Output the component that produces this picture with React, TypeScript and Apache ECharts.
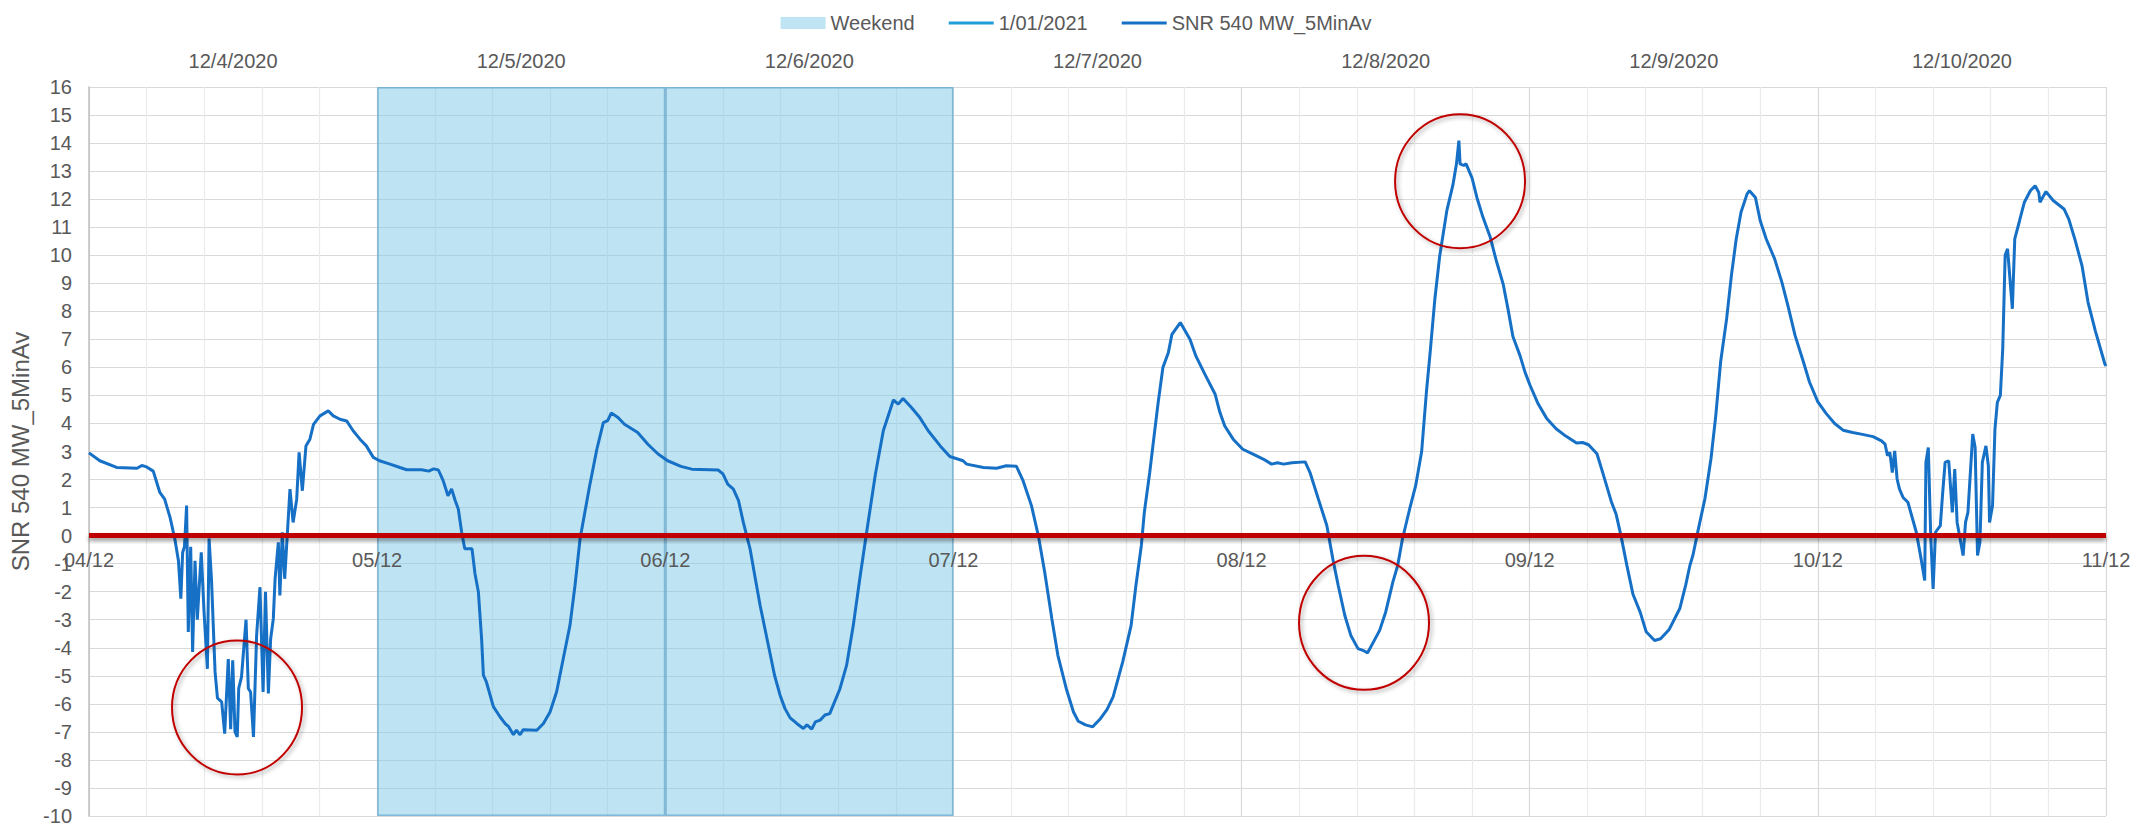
import React, { useEffect, useRef } from "react";
import * as echarts from "echarts";

// Bottom (time) axis: hours since 04/12 00:00, one label per day
const dayLabels = ["04/12", "05/12", "06/12", "07/12", "08/12", "09/12", "10/12", "11/12"];
// Top category axis (weekend shading)
const dayCategories = ["12/4/2020", "12/5/2020", "12/6/2020", "12/7/2020", "12/8/2020", "12/9/2020", "12/10/2020"];
const weekendFlags = [0, 1, 1, 0, 0, 0, 0];

// SNR 540 MW_5MinAv: time (hours since 04/12 00:00) and value
const hours = [
  0, 0.9, 2.3, 4.0, 4.4, 4.8, 5.35, 5.9, 6.3, 6.75, 7.15, 7.45, 7.65, 7.8, 7.95, 8.13, 8.27, 8.47, 8.63, 8.83,
  9.02, 9.35, 9.58, 9.86, 10.0, 10.2, 10.5, 10.7, 11.05, 11.3, 11.6, 11.8, 11.97, 12.16, 12.35, 12.47, 12.7, 13.08, 13.27, 13.46,
  13.7, 13.96, 14.24, 14.5, 14.7, 14.94, 15.13, 15.35, 15.5, 15.77, 15.9, 16.1, 16.3, 16.74, 17.0, 17.3, 17.5, 17.77, 18.07, 18.4,
  18.7, 19.24, 19.93, 20.35, 20.9, 21.46, 22.0, 22.57, 23.1, 23.68, 24.2, 25.07, 25.9, 26.46, 27.7, 28.3, 28.7, 29.1, 29.5, 29.9,
  30.2, 30.5, 30.76, 31.04, 31.3, 31.9, 32.15, 32.43, 32.7, 32.85, 33.1, 33.68, 34.23, 34.65, 34.93, 35.35, 35.6, 35.9, 36.17, 37.3,
  37.85, 38.4, 38.95, 39.5, 40.06, 40.48, 40.9, 41.3, 41.7, 42.3, 42.84, 43.2, 43.5, 44.06, 44.6, 45.7, 46.55, 47.4, 48.2, 49.3,
  50.2, 52.4, 52.8, 53.2, 53.67, 54.1, 54.5, 55.06, 55.5, 55.9, 56.3, 56.7, 57.1, 57.56, 57.97, 58.4, 58.95, 59.5, 59.8, 60.2,
  60.5, 60.9, 61.3, 61.7, 62.1, 62.55, 63.1, 63.66, 64.2, 64.77, 65.5, 66.16, 67.0, 67.4, 67.8, 68.5, 69.2, 69.9, 70.9, 71.7,
  72.8, 73.1, 74.5, 75.6, 76.4, 77.25, 77.8, 78.5, 79.07, 79.6, 80.2, 80.7, 81.4, 82.0, 82.4, 83.0, 83.6, 84.2, 84.8, 85.3,
  86.1, 86.8, 87.2, 87.65, 87.9, 88.35, 88.75, 89.05, 89.45, 89.9, 90.2, 90.9, 91.7, 92.2, 92.95, 93.8, 94.2, 94.6, 95.3, 96.1,
  97.0, 97.8, 98.5, 99.0, 99.5, 100.2, 101.3, 101.7, 102.4, 103.1, 103.6, 104.05, 104.6, 105.1, 105.7, 106.1, 106.5, 106.9, 107.5, 108.0,
  108.6, 109.0, 109.4, 110.0, 110.5, 111.0, 111.4, 111.7, 112.1, 112.5, 113.1, 113.6, 113.9, 114.1, 114.2, 114.5, 114.7, 115.2, 115.6, 116.1,
  116.7, 117.2, 117.8, 118.2, 118.6, 119.2, 119.6, 120.0, 120.7, 121.4, 122.2, 123.0, 123.9, 124.4, 124.9, 125.6, 126.1, 126.8, 127.2, 127.6,
  128.1, 128.6, 129.2, 129.7, 130.4, 130.9, 131.6, 132.5, 133.0, 133.35, 133.6, 134.0, 134.6, 135.1, 135.5, 135.9, 136.4, 136.8, 137.2, 137.6,
  138.1, 138.3, 138.8, 139.2, 139.7, 140.4, 141.0, 141.5, 142.1, 142.8, 143.3, 144.0, 144.7, 145.4, 146.1, 146.9, 147.6, 148.6, 149.3, 149.6,
  149.8, 150.0, 150.2, 150.4, 150.6, 150.8, 151.1, 151.5, 152.2, 152.6, 152.9, 153.0, 153.2, 153.4, 153.6, 153.8, 154.2, 154.4, 154.6, 154.9,
  155.2, 155.4, 155.6, 156.1, 156.3, 156.5, 156.9, 157.1, 157.3, 157.5, 157.7, 158.0, 158.2, 158.3, 158.55, 158.75, 158.95, 159.2, 159.4, 159.6,
  159.8, 160.2, 160.4, 160.8, 161.2, 161.7, 162.1, 162.4, 162.5, 163.0, 163.6, 164.5, 164.9, 165.4, 166.0, 166.5, 167.1, 167.9, 168.0,
];
const snr = [
  2.95, 2.67, 2.43, 2.4, 2.5, 2.45, 2.3, 1.54, 1.3, 0.65, -0.12, -0.9, -2.25, -0.6, -0.4, 1.07, -3.44, -0.4, -4.15, -0.9,
  -3.0, -0.6, -2.7, -4.75, -0.1, -1.54, -4.86, -5.8, -5.93, -7.06, -4.4, -6.9, -4.45, -7.0, -7.18, -5.45, -5.05, -3.0, -5.45, -5.58,
  -7.18, -3.56, -1.84, -5.58, -2.0, -5.63, -3.68, -2.97, -1.54, -0.24, -2.13, 0.12, -1.54, 1.66, 0.47, 1.3, 2.97, 1.6, 3.2, 3.44,
  3.97, 4.27, 4.45, 4.27, 4.15, 4.09, 3.74, 3.44, 3.2, 2.79, 2.67, 2.55, 2.43, 2.35, 2.35, 2.3, 2.38, 2.34, 1.96, 1.42,
  1.66, 1.25, 0.95, 0.12, -0.47, -0.47, -1.36, -2.0, -3.68, -4.98, -5.22, -6.1, -6.46, -6.7, -6.8, -7.1, -6.94, -7.1, -6.92, -6.94,
  -6.7, -6.29, -5.57, -4.39, -3.2, -1.78, -0.12, 0.83, 1.78, 3.08, 4.03, 4.1, 4.37, 4.21, 3.97, 3.68, 3.26, 2.91, 2.67, 2.47,
  2.37, 2.34, 2.2, 1.84, 1.66, 1.25, 0.47, -0.47, -1.54, -2.49, -3.32, -4.15, -4.98, -5.69, -6.17, -6.5, -6.7, -6.88, -6.75, -6.9,
  -6.64, -6.58, -6.4, -6.35, -5.93, -5.46, -4.63, -3.2, -1.54, 0.12, 2.19, 3.74, 4.84, 4.69, 4.89, 4.57, 4.21, 3.74, 3.2, 2.82,
  2.67, 2.55, 2.43, 2.4, 2.49, 2.47, 1.96, 1.07, 0, -1.3, -2.97, -4.27, -5.46, -6.29, -6.62, -6.75, -6.82, -6.55, -6.2, -5.75,
  -4.5, -3.2, -1.78, -0.36, 0.83, 2.25, 3.68, 4.74, 6.0, 6.52, 7.18, 7.6, 7.0, 6.4, 5.75, 5.04, 4.39, 3.91, 3.44, 3.08,
  2.9, 2.73, 2.55, 2.6, 2.55, 2.6, 2.63, 2.25, 1.3, 0.36, -0.83, -1.78, -2.85, -3.56, -4.03, -4.09, -4.18, -3.86, -3.38, -2.73,
  -1.66, -1.07, -0.12, 0.95, 1.78, 3.0, 5.14, 6.5, 8.44, 9.96, 11.6, 12.5, 13.26, 14.09, 13.26, 13.2, 13.26, 12.75, 12.06, 11.36,
  10.66, 9.83, 8.95, 8.06, 7.1, 6.41, 5.84, 5.39, 4.7, 4.19, 3.81, 3.55, 3.3, 3.32, 3.24, 2.92, 2.22, 1.21, 0.76, 0,
  -1.08, -2.09, -2.73, -3.43, -3.74, -3.68, -3.36, -2.6, -1.75, -1.05, -0.69, 0.14, 1.33, 2.75, 4.29, 6.19, 7.73, 9.28, 10.58, 11.53,
  12.18, 12.3, 12.06, 11.23, 10.58, 9.87, 9.04, 8.21, 7.14, 6.19, 5.48, 4.77, 4.35, 4.0, 3.76, 3.68, 3.62, 3.53, 3.38, 3.26,
  2.85, 2.97, 2.25, 3.02, 2.02, 1.66, 1.36, 1.19, 0.12, -0.83, -1.6, 2.61, 3.14, 0, -1.9, 0.12, 0.36, 1.54, 2.61, 2.67,
  0.83, 2.37, 0.47, -0.71, 0.47, 0.83, 3.62, 3.14, -0.71, -0.24, 2.61, 3.2, 2.49, 0.47, 1.07, 3.8, 4.75, 5.0, 6.67, 10.0,
  10.23, 8.09, 10.58, 11.23, 11.89, 12.3, 12.48, 12.24, 11.89, 12.27, 11.95, 11.65, 11.29, 10.58, 9.63, 8.33, 7.32, 6.13, 6.05,
];

// Reference (threshold) line value
const thresholdValues = [0];

// Annotation circle centres: [hours, SNR]
const circleHours = [12.33, 114.2, 106.2];
const circleValues = [-6.13, 12.64, -3.11];

const TEXT = "#595959";
const FONT = "'Liberation Sans', Arial, sans-serif";
const LEGEND_LINE = "path://M0,0 L45,0 L45,3 L0,3 Z";

export default function App() {
  const ref = useRef<HTMLDivElement>(null);

  useEffect(() => {
    if (!ref.current) return;
    const chart = echarts.init(ref.current, undefined, { renderer: "svg" });
    const lineData = hours.map((h, i) => [h, snr[i]]);
    const circleData = circleHours.map((h, i) => [h, circleValues[i]]);
    const dayFormatter = (v: number) => dayLabels[Math.round(v / 24)] ?? "";

    chart.setOption({
      animation: false,
      textStyle: { fontFamily: FONT },
      legend: {
        top: 8,
        left: "center",
        itemGap: 34,
        itemWidth: 45,
        itemHeight: 12,
        symbolKeepAspect: true,
        textStyle: { color: TEXT, fontSize: 20, fontFamily: FONT },
        data: [
          { name: "Weekend", icon: "rect", itemStyle: { color: "#BFE4F3", borderWidth: 0 } },
          { name: "1/01/2021", icon: LEGEND_LINE, itemStyle: { color: "#1F9ED9", borderWidth: 0 } },
          { name: "SNR 540 MW_5MinAv", icon: LEGEND_LINE, itemStyle: { color: "#1570C6", borderWidth: 0 } },
        ],
      },
      grid: { left: 89, right: 46, top: 87, bottom: 9 },
      xAxis: [
        {
          // time axis: grid lines only (drawn beneath the weekend shading)
          type: "value",
          min: 0,
          max: 168,
          interval: 24,
          position: "bottom",
          axisLine: { show: false, onZero: false },
          axisTick: { show: false },
          axisLabel: { show: false },
          splitLine: { show: true, lineStyle: { color: "#D9D9D9", width: 1.2 } },
          minorTick: { show: false, splitNumber: 5 },
          minorSplitLine: { show: true, lineStyle: { color: "#EBEBEB", width: 1.2 } },
        },
        {
          type: "category",
          position: "top",
          data: dayCategories,
          boundaryGap: true,
          axisLine: { show: false, onZero: false },
          axisTick: { show: false },
          axisLabel: { color: TEXT, fontSize: 20, fontFamily: FONT, margin: 16 },
          splitLine: { show: false },
        },
        {
          // same time scale: day labels sitting just under the zero line, above the shading
          type: "value",
          min: 0,
          max: 168,
          interval: 24,
          position: "bottom",
          z: 6,
          axisLine: { show: false, onZero: false },
          axisTick: { show: false },
          axisLabel: {
            color: TEXT,
            fontSize: 20,
            fontFamily: FONT,
            margin: -266,
            showMinLabel: true,
            showMaxLabel: true,
            formatter: dayFormatter,
          },
          splitLine: { show: false },
        },
      ],
      yAxis: [
        {
          type: "value",
          min: -10,
          max: 16,
          interval: 1,
          name: "SNR 540 MW_5MinAv",
          nameLocation: "middle",
          nameGap: 54,
          nameTextStyle: { color: TEXT, fontSize: 24, fontFamily: FONT },
          axisLine: { show: true, onZero: false, lineStyle: { color: "#BFBFBF", width: 1.5 } },
          axisTick: { show: false },
          axisLabel: { color: TEXT, fontSize: 20, fontFamily: FONT, margin: 17 },
          splitLine: { show: true, lineStyle: { color: "#D9D9D9", width: 1.2 } },
        },
        { type: "value", min: 0, max: 1, show: false },
      ],
      series: [
        {
          name: "Weekend",
          type: "bar",
          xAxisIndex: 1,
          yAxisIndex: 1,
          data: weekendFlags.map((f) => (f ? f : "-")),
          barCategoryGap: "0%",
          barGap: "0%",
          itemStyle: {
            color: "rgba(125,201,231,0.5)",
            borderColor: "rgba(95,165,205,0.75)",
            borderWidth: 1.5,
          },
          z: 1,
          silent: true,
        },
        {
          name: "1/01/2021",
          type: "line",
          data: [],
          symbol: "none",
          lineStyle: { color: "#1F9ED9", width: 3 },
          itemStyle: { color: "#1F9ED9" },
        },
        {
          name: "SNR 540 MW_5MinAv",
          type: "line",
          data: lineData,
          symbol: "none",
          showSymbol: false,
          lineStyle: { color: "#1570C6", width: 3 },
          itemStyle: { color: "#1570C6" },
          z: 3,
          silent: true,
        },
        {
          name: "threshold",
          type: "custom",
          xAxisIndex: 0,
          yAxisIndex: 0,
          data: thresholdValues.map((v) => [0, v]),
          z: 5,
          silent: true,
          renderItem: (params: any, api: any) => {
            const cs = params.coordSys;
            const p = api.coord([0, api.value(1)]);
            return {
              type: "rect",
              shape: { x: cs.x, y: p[1] - 2.5, width: cs.width, height: 5 },
              style: {
                fill: "#C00000",
                shadowBlur: 4,
                shadowColor: "rgba(0,0,0,0.4)",
                shadowOffsetY: 3,
              },
            };
          },
        },
        {
          name: "annotations",
          type: "custom",
          xAxisIndex: 0,
          yAxisIndex: 0,
          data: circleData,
          z: 10,
          silent: true,
          clip: false,
          renderItem: (_params: any, api: any) => {
            const p = api.coord([api.value(0), api.value(1)]);
            return {
              type: "ellipse",
              shape: { cx: p[0], cy: p[1], rx: 65, ry: 67 },
              style: {
                fill: "none",
                stroke: "#C00000",
                lineWidth: 2,
                shadowBlur: 4,
                shadowColor: "rgba(0,0,0,0.35)",
                shadowOffsetX: 2,
                shadowOffsetY: 2,
              },
            };
          },
        },
      ],
    });

    return () => chart.dispose();
  }, []);

  return (
    <div
      ref={ref}
      style={{ position: "absolute", left: 0, top: 0, width: 2152, height: 826, background: "#fff" }}
    />
  );
}
